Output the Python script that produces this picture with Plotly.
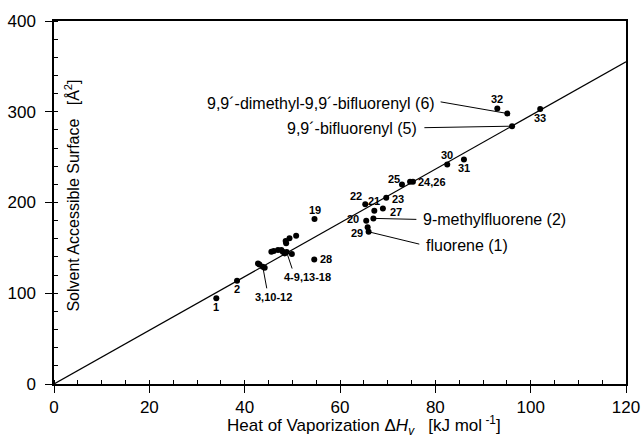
import plotly.graph_objects as go

# ---------------- data ----------------
# reference compounds (numbered 1-33)
ref_ids = ["1", "2",
           "3", "10", "11", "12",
           "4", "5", "6", "7", "8", "9", "13", "14", "15", "16", "17", "18",
           "19", "20", "21", "22", "23", "24", "25", "26", "27", "28", "29",
           "30", "31", "32", "33"]
ref_hv = [34.05, 38.4,
          42.8, 43.1, 43.8, 44.2,
          45.6, 46.1, 47.0, 47.7, 48.0, 48.4, 49.9, 48.7, 48.6, 49.4, 50.8, 48.8,
          54.65, 65.5, 67.2, 65.3, 69.7, 74.7, 73.0, 75.3, 69.0, 54.6, 65.8,
          82.5, 86.0, 93.0, 102.0]
ref_sas = [94.4, 113.8,
           132.9, 131.8, 129.2, 128.1,
           145.7, 146.5, 147.6, 147.6, 145.7, 143.9, 143.2, 155.0, 157.5, 160.5, 163.3, 145.4,
           181.7, 179.8, 190.9, 198.2, 205.1, 223.0, 219.7, 222.8, 193.5, 137.3, 172.6,
           242.0, 247.5, 303.6, 302.9]

# studied compounds
cmp_names = ["fluorene (1)", "9-methylfluorene (2)",
             "9,9´-bifluorenyl (5)", "9,9´-dimethyl-9,9´-bifluorenyl (6)"]
cmp_hv = [66.0, 67.0, 96.1, 95.1]
cmp_sas = [167.7, 182.5, 284.1, 298.1]

# regression line
fit_hv = [0, 120]
fit_sas = [0, 355]

# axis ticks
x_ticks = [0, 20, 40, 60, 80, 100, 120]
y_ticks = [0, 100, 200, 300, 400]

# ---------------- figure ----------------
FONT = "Liberation Sans, Arial, sans-serif"
fig = go.Figure()

fig.add_trace(go.Scatter(x=fit_hv, y=fit_sas, mode="lines",
                         line=dict(color="black", width=1.2),
                         showlegend=False, hoverinfo="skip"))
fig.add_trace(go.Scatter(x=ref_hv, y=ref_sas, mode="markers",
                         marker=dict(color="black", size=6),
                         text=ref_ids, showlegend=False))
fig.add_trace(go.Scatter(x=cmp_hv, y=cmp_sas, mode="markers",
                         marker=dict(color="black", size=6),
                         text=cmp_names, showlegend=False))

ann = []
shapes = []
small = dict(family=FONT, size=11, color="black")
big = dict(family=FONT, size=16, color="black")


def idx(label):
    return ref_ids.index(label)


def leader(x, y, dx, dy):
    """line from a data point to a pixel offset (dx right, dy down)"""
    shapes.append(dict(type="line", xref="x", yref="y",
                       xsizemode="pixel", ysizemode="pixel",
                       xanchor=x, yanchor=y, x0=0, y0=0, x1=dx, y1=-dy,
                       line=dict(color="black", width=1)))


# numeric labels: (text, anchor id, xanchor, xshift, yshift)
num_labels = [
    ("1", "1", "center", 0, -9),
    ("2", "2", "center", 0, -8.5),
    ("19", "19", "center", 0, 9),
    ("28", "28", "left", 4, 0),
    ("22", "22", "center", -9, 8),
    ("21", "21", "center", 0, 9.5),
    ("23", "23", "left", 4, -1.5),
    ("27", "27", "left", 5, -3.5),
    ("25", "25", "center", -7.5, 6),
    ("24,26", "26", "left", 3, 0),
    ("20", "20", "right", -5, 1.5),
    ("29", "29", "right", -3, -5.5),
    ("30", "30", "center", 0, 9),
    ("31", "31", "center", 0, -8.5),
    ("32", "32", "center", 0, 9),
    ("33", "33", "center", 0, -9),
    ("3,10-12", "11", "center", 11, -30.6),
    ("4-9,13-18", "18", "center", 21.3, -24.7),
]
for txt, pid, xa, xs, ys in num_labels:
    i = idx(pid)
    ann.append(dict(x=ref_hv[i], y=ref_sas[i], text="<b>%s</b>" % txt,
                    showarrow=False, xanchor=xa, yanchor="middle",
                    xshift=xs, yshift=ys, font=small))

# cluster leader lines: (anchor id, dx, dy)
for pid, dx, dy in [("11", 4, 21.6), ("18", 5.5, 16.5)]:
    i = idx(pid)
    leader(ref_hv[i], ref_sas[i], dx, dy)

# named compound labels: (xanchor, xshift, yshift, leader dx, leader dy)
cmp_style = [
    ("left", 55.7, -13.3, 50.7, 12.3),
    ("left", 48, -0.7, 43, 1),
    ("right", -92.7, -2, -87.7, 1.5),
    ("right", -70.7, 10.3, -66.7, -11.6),
]
for n, h, s, (xa, xs, ys, lax, lay) in zip(cmp_names, cmp_hv, cmp_sas, cmp_style):
    ann.append(dict(x=h, y=s, text=n, showarrow=False, xanchor=xa,
                    yanchor="middle", xshift=xs, yshift=ys, font=big))
    leader(h, s, lax, lay)

# axis titles
ann.append(dict(xref="paper", yref="paper", x=0.0315, y=0.519,
                text="Solvent Accessible Surface\u00a0\u00a0\u00a0[Å<sup>2</sup>]",
                textangle=-90, showarrow=False, xanchor="center",
                yanchor="middle", font=dict(family=FONT, size=16, color="black")))
ann.append(dict(xref="paper", yref="paper", x=0.542, y=-0.113,
                text="Heat of Vaporization Δ<i>H<sub>v</sub></i>\u00a0\u00a0\u00a0[kJ mol<sup> -1</sup>]",
                showarrow=False, xanchor="center", yanchor="middle",
                font=dict(family=FONT, size=17, color="black")))

axis_common = dict(showline=True, linecolor="black", linewidth=1.5,
                   mirror=True, showgrid=False, zeroline=False,
                   ticks="outside", tickcolor="black", tickwidth=1.2,
                   ticklen=7, automargin=False,
                   tickfont=dict(family=FONT, size=17, color="black"))

fig.update_layout(
    width=642, height=437,
    margin=dict(l=54, r=16, t=21, b=53),
    paper_bgcolor="white", plot_bgcolor="white",
    xaxis=dict(range=[0, 120], tickvals=x_ticks,
               minor=dict(dtick=5, ticks="inside", ticklen=4,
                          tickcolor="black", tickwidth=1),
               **axis_common),
    yaxis=dict(range=[0, 400], tickvals=y_ticks,
               minor=dict(dtick=20, ticks="inside", ticklen=4,
                          tickcolor="black", tickwidth=1),
               ticklabelstandoff=6,
               **axis_common),
    annotations=ann,
    shapes=shapes,
    showlegend=False,
)

# remove the default page margin so the 642x437 figure fills the window exactly
fig.write_html("out.html",
               config={"displayModeBar": False},
               post_script="document.body.style.margin='0px';"
                           "document.body.style.overflow='hidden';")
